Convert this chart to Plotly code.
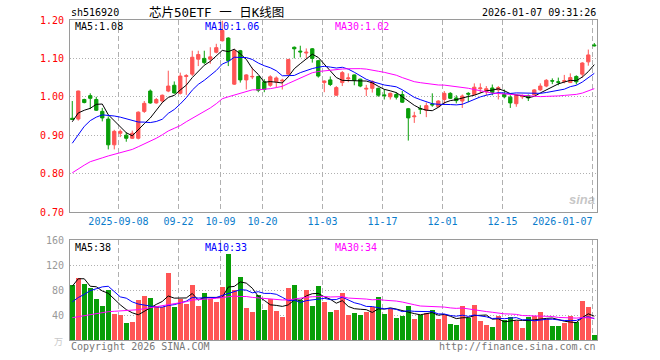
import plotly.graph_objects as go
import pandas as pd

# ---------------- data ----------------
opens = [0.944, 0.942, 0.993, 1.003, 0.993, 0.962, 0.942, 0.875, 0.905, 0.900,
         0.892, 0.892, 0.962, 1.015, 0.984, 0.989, 1.015, 1.030, 1.009, 1.053,
         1.059, 1.098, 1.100, 1.098, 1.116, 1.146, 1.153, 1.033, 1.120, 1.044,
         1.052, 1.053, 1.039, 1.030, 1.039, 1.041, 1.059, 1.129, 1.119, 1.114,
         1.125, 1.094, 1.037, 1.044, 1.004, 1.037, 1.047, 1.057, 1.046, 1.020,
         1.022, 1.022, 1.005, 1.000, 1.006, 1.006, 0.969, 0.948, 0.969, 0.965,
         0.981, 0.974, 0.993, 1.009, 0.997, 0.989, 1.009, 1.006, 1.021, 1.013,
         1.023, 1.018, 1.006, 0.999, 0.982, 1.000, 1.003, 1.005, 1.018, 1.028,
         1.042, 1.039, 1.040, 1.037, 1.053, 1.059, 1.091, 1.135]
highs = [0.989, 1.016, 0.995, 1.009, 1.000, 0.971, 0.949, 0.914, 0.915, 0.908,
         0.912, 0.962, 0.989, 1.019, 0.997, 1.006, 1.068, 1.040, 1.063, 1.059,
         1.120, 1.120, 1.120, 1.129, 1.138, 1.198, 1.155, 1.125, 1.122, 1.059,
         1.076, 1.054, 1.046, 1.056, 1.053, 1.047, 1.099, 1.131, 1.133, 1.126,
         1.127, 1.096, 1.043, 1.053, 1.028, 1.067, 1.061, 1.058, 1.047, 1.031,
         1.043, 1.024, 1.020, 1.011, 1.012, 1.015, 0.971, 0.961, 0.978, 0.985,
         1.009, 0.991, 1.015, 1.012, 1.004, 1.006, 1.012, 1.035, 1.035, 1.028,
         1.032, 1.028, 1.019, 1.004, 1.006, 1.006, 1.006, 1.020, 1.035, 1.046,
         1.048, 1.050, 1.057, 1.061, 1.056, 1.090, 1.123, 1.140]
lows = [0.940, 0.938, 0.983, 0.968, 0.963, 0.936, 0.863, 0.863, 0.895, 0.883,
        0.890, 0.889, 0.958, 0.982, 0.982, 0.984, 1.012, 1.008, 1.006, 1.005,
        1.054, 1.080, 1.085, 1.086, 1.113, 1.144, 1.080, 1.031, 1.037, 1.019,
        1.046, 1.012, 1.012, 1.026, 1.024, 1.019, 1.057, 1.100, 1.103, 1.100,
        1.089, 1.050, 1.012, 1.028, 1.003, 1.028, 1.038, 1.030, 1.025, 1.002,
        1.011, 1.000, 0.993, 0.993, 0.993, 0.984, 0.886, 0.932, 0.955, 0.947,
        0.974, 0.974, 0.980, 0.994, 0.983, 0.971, 0.986, 1.005, 1.010, 1.004,
        1.004, 0.993, 0.996, 0.971, 0.974, 0.994, 0.989, 1.004, 1.015, 1.025,
        1.033, 1.030, 1.035, 1.037, 1.032, 1.050, 1.081, 1.131]
closes = [0.941, 1.015, 0.985, 0.996, 0.965, 0.945, 0.875, 0.910, 0.910, 0.892,
          0.905, 0.960, 0.983, 0.984, 0.993, 1.004, 1.028, 1.010, 1.054, 1.055,
          1.103, 1.110, 1.089, 1.104, 1.128, 1.173, 1.094, 1.120, 1.044, 1.057,
          1.053, 1.017, 1.019, 1.052, 1.049, 1.043, 1.097, 1.125, 1.117, 1.116,
          1.100, 1.054, 1.041, 1.032, 1.024, 1.063, 1.049, 1.043, 1.028, 1.022,
          1.040, 1.004, 1.003, 1.009, 0.999, 0.986, 0.945, 0.950, 0.968, 0.977,
          0.979, 0.989, 1.009, 0.996, 0.990, 1.002, 1.007, 1.025, 1.023, 1.021,
          1.011, 1.024, 1.000, 0.984, 1.004, 1.003, 0.997, 1.018, 1.028, 1.043,
          1.041, 1.038, 1.042, 1.050, 1.039, 1.088, 1.109, 1.133]
volumes = [88, 98.7, 89.6, 84, 65.6, 54.4, 80, 41.6, 40, 27.2,
           28.8, 64, 70.4, 67.2, 54.4, 52.3, 107.7, 53.3, 65.6, 57.6,
           88, 54.4, 75.2, 65, 60.8, 85.3, 137.6, 80, 100.8, 51.2,
           44.8, 72, 48, 65.6, 46.4, 36.8, 84, 88, 64, 80,
           54.4, 86.4, 60.8, 44.8, 48, 74.7, 40, 43.2, 40, 44.8,
           52.3, 68.8, 41.6, 49.6, 35.2, 38.4, 54.4, 33.6, 40, 43.2,
           48, 33.6, 40, 25.6, 24, 54.4, 35.2, 56, 30.4, 24,
           20.8, 38.4, 32, 36.8, 30.4, 19.2, 36.8, 38.4, 44.8, 33.6,
           22.4, 22.4, 27.2, 38.4, 28.8, 62.4, 52.8, 8]

# moving-average values before a full window exists
ma5_head = [0.935, 0.958, 0.965, 0.970]
ma10_head = [0.879, 0.901, 0.923, 0.938, 0.947, 0.953, 0.952, 0.950, 0.947]
ma30_head = [0.802, 0.813, 0.822, 0.831, 0.837, 0.841, 0.846, 0.850, 0.853, 0.858,
             0.863, 0.870, 0.877, 0.884, 0.892, 0.901, 0.911, 0.918, 0.925, 0.935,
             0.944, 0.952, 0.961, 0.971, 0.982, 0.995, 1.000, 1.005, 1.010]
vma5_head = [86, 98, 98, 86]
vma10_head = [61, 68, 73, 79, 82, 85, 86, 77, 69]
vma30_head = [35.7, 37.3, 39.5, 41, 42.7, 44.3, 45.3, 45.9, 46.4, 46.9,
              47.5, 48.5, 50.1, 51.7, 53.3, 54.4, 55.5, 57, 59.2, 61.3,
              64, 65, 65.6, 66, 66.7, 67.7, 69.3, 70.4, 69.5]

tick_index = [8, 18, 25, 32, 42, 52, 62, 72, 87]
tick_labels = ["2025-09-08", "09-22", "10-09", "10-20", "11-03",
               "11-17", "12-01", "12-15", "2026-01-07"]
price_ticks = [0.70, 0.80, 0.90, 1.00, 1.10, 1.20]
vol_ticks = [40, 80, 120, 160]

# ---------------- derived ----------------
def ma(values, n, head):
    s = pd.Series(values, dtype=float).rolling(n).mean().tolist()
    return list(head) + s[len(head):]

idx = list(range(len(closes)))
ma5 = ma(closes, 5, ma5_head)
ma10 = ma(closes, 10, ma10_head)
ma30 = ma(closes, 30, ma30_head)
vma5 = ma(volumes, 5, vma5_head)
vma10 = ma(volumes, 10, vma10_head)
vma30 = ma(volumes, 30, vma30_head)

RED = "#ff5555"
GREEN = "#089e08"
MONO = "DejaVu Sans Mono, Liberation Mono, monospace"
GRID = "#b0b0b0"
BORDER = "#9a9a9a"

fig = go.Figure()
fig.add_trace(go.Candlestick(
    x=idx, open=opens, high=highs, low=lows, close=closes,
    increasing=dict(line=dict(color=RED, width=1), fillcolor=RED),
    decreasing=dict(line=dict(color=GREEN, width=1), fillcolor=GREEN),
    xaxis="x", yaxis="y", hoverinfo="skip", showlegend=False))
for vals, col in [(ma5, "#000000"), (ma10, "#0000ff"), (ma30, "#ff00ff")]:
    fig.add_trace(go.Scatter(x=idx, y=vals, mode="lines",
                             line=dict(color=col, width=1),
                             xaxis="x", yaxis="y", hoverinfo="skip", showlegend=False))

bar_colors = [RED if c >= o else GREEN for o, c in zip(opens, closes)]
fig.add_trace(go.Bar(x=idx, y=volumes, marker=dict(color=bar_colors, line=dict(width=0)),
                     width=0.82, xaxis="x2", yaxis="y2", hoverinfo="skip", showlegend=False))
for vals, col in [(vma5, "#000000"), (vma10, "#0000ff"), (vma30, "#ff00ff")]:
    fig.add_trace(go.Scatter(x=idx, y=vals, mode="lines",
                             line=dict(color=col, width=1),
                             xaxis="x2", yaxis="y2", hoverinfo="skip", showlegend=False))

L, R, T, B = 70, 597, 20, 340
W, H = 660, 360


def px(xp):
    return (xp - L) / (R - L)


def py(yp):
    return (B - yp) / (B - T)


xrange_ = [-0.38, 87.45]
grid_vals = [t - 0.3 for t in tick_index]
# last label sits right-aligned on its gridline: pad with non-breaking spaces
shown_labels = tick_labels[:-1] + [tick_labels[-1] + "\u00a0" * len(tick_labels[-1])]
common_x = dict(range=xrange_, tickvals=grid_vals, showgrid=True, gridcolor=GRID,
                griddash="5px,3px", gridwidth=1, showline=True, mirror=True,
                linecolor=BORDER, linewidth=1, zeroline=False, ticks="",
                fixedrange=True, automargin=False)

fig.update_layout(
    width=W, height=H,
    margin=dict(l=L, r=W - R, t=T, b=H - B, autoexpand=False),
    plot_bgcolor="white", paper_bgcolor="white",
    showlegend=False, boxgap=0.22, bargap=0,
    xaxis=dict(domain=[0, 1], anchor="y", ticktext=shown_labels,
               tickfont=dict(family=MONO, size=10, color="#0a7ccc"),
               rangeslider=dict(visible=False), **common_x),
    xaxis2=dict(domain=[0, 1], anchor="y2", matches="x", showticklabels=False,
                **common_x),
    yaxis=dict(domain=[py(212), 1], range=[0.70, 1.20], tickvals=price_ticks,
               ticktext=["%.2f" % v for v in price_ticks],
               tickfont=dict(family=MONO, size=10, color="#ff0000"),
               showgrid=True, gridcolor=GRID, griddash="1px,2px",
               showline=True, mirror=True, linecolor=BORDER, zeroline=False,
               ticks="", ticklabelstandoff=3, fixedrange=True, automargin=False),
    yaxis2=dict(domain=[0, py(240)], range=[0, 160], tickvals=vol_ticks,
                ticktext=[str(v) for v in vol_ticks],
                tickfont=dict(family=MONO, size=10, color="#999999"),
                showgrid=True, gridcolor=GRID, griddash="1px,2px",
                showline=True, mirror=True, linecolor=BORDER, zeroline=False,
                ticks="", ticklabelstandoff=3, fixedrange=True, automargin=False),
)

ann = []


def text(x, y, s, color="#000", size=10, xanchor="left", family=MONO):
    ann.append(dict(xref="paper", yref="paper", x=px(x), y=py(y), text=s,
                    showarrow=False, xanchor=xanchor, yanchor="middle",
                    font=dict(family=family, size=size, color=color)))


text(69, 13, "sh516920")
text(216, 13, "芯片50ETF 一 日K线图", size=12.5, xanchor="center",
     family="DejaVu Sans Mono, Noto Sans CJK SC")
text(598, 13, "2026-01-07 09:31:26", xanchor="right")
text(73, 27, "MA5:%.2f" % ma5[-1])
text(203, 27, "MA10:%.2f" % ma10[-1], color="#0000ff")
text(333, 27, "MA30:%.2f" % ma30[-1], color="#ff00ff")
text(73, 247, "MA5:%d" % round(vma5[-1]))
text(203, 247, "MA10:%d" % 33, color="#0000ff")
text(333, 247, "MA30:%d" % 34, color="#ff00ff")
text(69, 346, "Copyright 2026 SINA.COM", color="#777777")
text(598, 346, "http://finance.sina.com.cn", color="#777777", xanchor="right")
text(65, 341, "万", color="#c8c8c8", size=9, xanchor="right",
     family="Noto Sans CJK SC")
text(582, 199, "<b><i>sina</i></b>", color="rgba(150,150,150,0.55)", size=13,
     xanchor="center", family="Liberation Sans, Arial")
fig.update_layout(annotations=ann)

fig.write_html("out.html", config={"displayModeBar": False},
               post_script="document.body.style.margin='0';document.body.style.overflow='hidden';")
